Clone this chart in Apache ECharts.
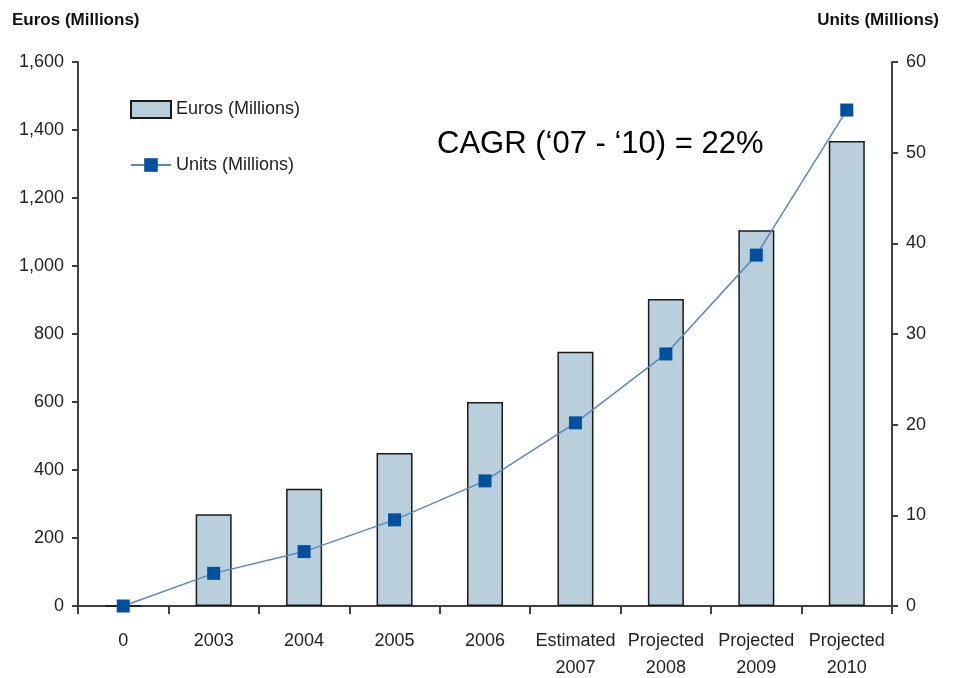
<!DOCTYPE html>
<html><head><meta charset="utf-8">
<script src="https://cdn.jsdelivr.net/npm/echarts@6/dist/echarts.min.js"></script>
<style>html,body{margin:0;padding:0;background:#fff}#c{width:955px;height:678px}</style>
</head><body><div id="c"></div>
<script>
const categories = ['0','2003','2004','2005','2006','Estimated\n2007','Projected\n2008','Projected\n2009','Projected\n2010'];
const eurosMillions = [0, 270, 345, 450, 600, 748, 903, 1105, 1368];
const unitsMillions = [0, 3.6, 6.0, 9.5, 13.8, 20.2, 27.8, 38.7, 54.7];
const leftTicks = [0, 200, 400, 600, 800, 1000, 1200, 1400, 1600];
const rightTicks = [0, 10, 20, 30, 40, 50, 60];

const FN = "'Liberation Sans Narrow', 'Arial Narrow', 'Liberation Sans', Arial, sans-serif";
const AX = '#404040';
const chart = echarts.init(document.getElementById('c'), null, {renderer:'canvas'});
chart.setOption({
  animation:false,
  backgroundColor:'#fff',
  grid:{left:78, right:63, top:62, bottom:72, containLabel:false, outerBoundsMode:'none'},
  title:[
    {text:'Euros (Millions)', left:12, top:12, padding:0, textStyle:{fontFamily:FN, fontSize:17, fontWeight:'bold', color:'#111'}},
    {text:'Units (Millions)', right:16, top:12, padding:0, textStyle:{fontFamily:FN, fontSize:17, fontWeight:'bold', color:'#111'}},
    {text:'CAGR (\u201807 - \u201810) = 22%', left:437, top:129, padding:0, textStyle:{fontFamily:"'Liberation Sans', Arial, sans-serif", fontSize:31, fontWeight:'normal', color:'#000'}}
  ],
  legend:{
    orient:'vertical', left:130, top:100, padding:0, itemGap:37, itemWidth:40, itemHeight:17,
    textStyle:{fontFamily:FN, fontSize:18, color:'#222', padding:[0,0,0,0]},
    data:[{name:'Euros (Millions)', icon:'rect'}, {name:'Units (Millions)'}]
  },
  xAxis:{
    type:'category', data:categories, boundaryGap:true,
    axisLine:{lineStyle:{color:AX, width:2}},
    axisTick:{show:true, length:8, lineStyle:{color:AX, width:2}},
    axisLabel:{fontFamily:FN, fontSize:18, color:'#222', margin:22, lineHeight:27, interval:0}
  },
  yAxis:[
    {type:'value', min:0, max:1600, interval:200, position:'left',
     axisLine:{show:true, lineStyle:{color:AX, width:2}},
     axisTick:{show:true, length:6, lineStyle:{color:AX, width:2}},
     splitLine:{show:false},
     axisLabel:{fontFamily:FN, fontSize:18, color:'#222', margin:14,
       formatter:v=>leftTicks.includes(v)?v.toLocaleString('en-US'):''}},
    {type:'value', min:0, max:60, interval:10, position:'right',
     axisLine:{show:true, lineStyle:{color:AX, width:2}},
     axisTick:{show:true, length:6, lineStyle:{color:AX, width:2}},
     splitLine:{show:false},
     axisLabel:{fontFamily:FN, fontSize:18, color:'#222', margin:14,
       formatter:v=>rightTicks.includes(v)?String(v):''}}
  ],
  series:[
    {name:'Euros (Millions)', type:'bar', yAxisIndex:0, data:eurosMillions, barWidth:36,
     itemStyle:{color:'#b9d0dc', borderColor:'#1a1a1a', borderWidth:1.5}},
    {name:'Units (Millions)', type:'line', yAxisIndex:1, data:unitsMillions,
     symbol:'rect', symbolSize:13,
     lineStyle:{color:'#5a86c2', width:1.5},
     itemStyle:{color:'#00509e'}, z:5}
  ]
});
</script></body></html>
